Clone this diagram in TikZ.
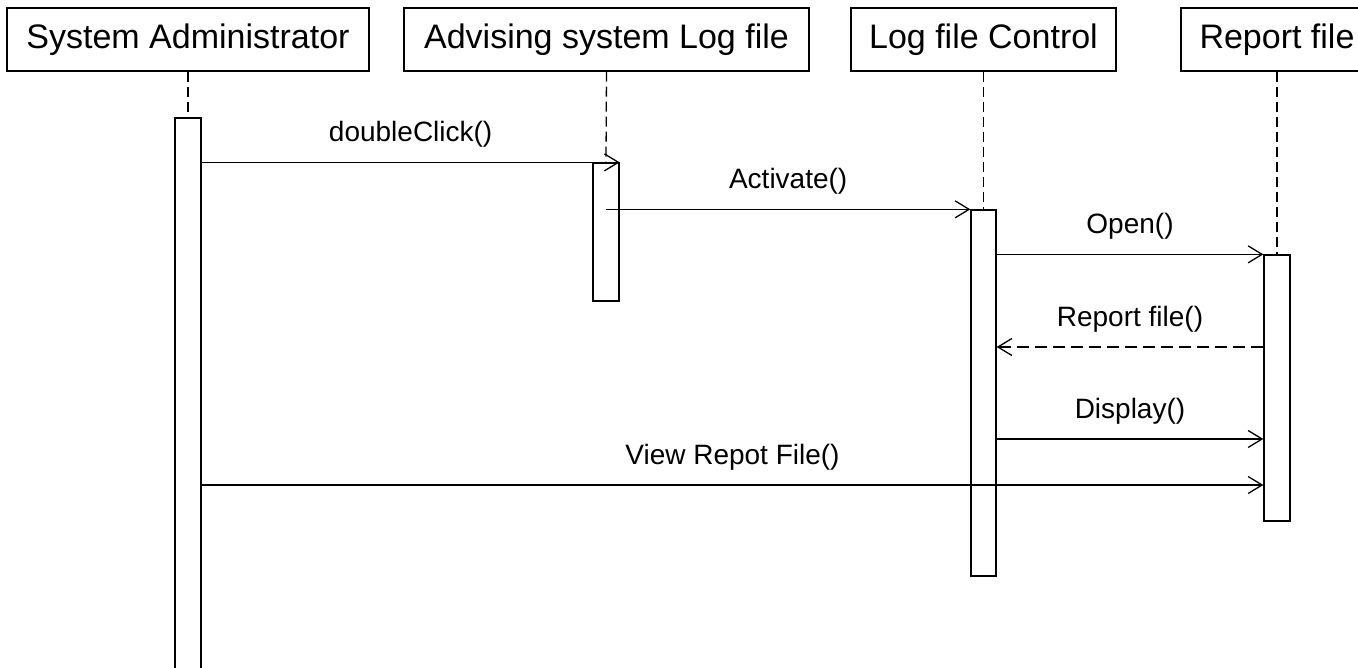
\documentclass[tikz,border=0pt]{standalone}
\usepackage{fontspec}
\setmainfont{Liberation Sans}
\usetikzlibrary{arrows.meta}
\begin{document}
\begin{tikzpicture}[x=1pt,y=-1pt,
  obj/.style={draw, line width=1.3pt, minimum height=63pt, inner sep=0pt,
    font=\fontsize{34}{40}\selectfont},
  bar/.style={draw, line width=1.3pt, fill=white, minimum width=26pt, inner sep=0pt},
  life/.style={line width=1.3pt, dash pattern=on 10pt off 5pt},
  msg/.style={line width=1.3pt, -{Straight Barb[length=14pt,width=17pt,line width=1.3pt]}},
  reply/.style={msg, dash pattern=on 12pt off 6pt},
  lbl/.style={font=\fontsize{28}{34}\selectfont, anchor=base, yshift=21pt}]
\useasboundingbox (0,0) rectangle (1358,667);
\clip (0,0) rectangle (1358,667);

% participants
\node[obj, minimum width=362pt] (sa) at (188,39.5) {System Administrator};
\node[obj, minimum width=405pt] (as) at (606.5,39.5) {Advising system Log file};
\node[obj, minimum width=265pt] (lc) at (983.5,39.5) {Log file Control};
\node[obj, minimum width=192pt] (rf) at (1277,39.5) {Report file};

% activation bars
\node[bar, minimum height=582pt] (b1) at (188,409) {};
\node[bar, minimum height=138pt] (b2) at (606,232) {};
\node[bar, minimum height=366pt, minimum width=25pt] (b3) at (983.5,393) {};
\node[bar, minimum height=266pt] (b4) at (1277,388) {};

% lifelines
\draw[life] (sa.south) -- (b1.north);
\draw[life] (as.south) -- (b2.north);
\draw[life] (lc.south) -- (b3.north);
\draw[life] (rf.south) -- (b4.north);

% message rows
\coordinate (rep) at (0,347);
\coordinate (dis) at (0,439);
\coordinate (vw) at (0,485);

% messages
\draw[msg] (b1.east |- b2.north) -- (b2.north east)
  node[midway, lbl] {doubleClick()};
\draw[msg] (b2.center |- b3.north) -- (b3.north west)
  node[midway, lbl] {Activate()};
\draw[msg] (b3.east |- b4.north) -- (b4.north west)
  node[midway, lbl] {Open()};
\draw[reply] (b4.west |- rep) -- (b3.east |- rep)
  node[midway, lbl] {Report file()};
\draw[msg] (b3.east |- dis) -- (b4.west |- dis)
  node[midway, lbl] {Display()};
\draw[msg] (b1.east |- vw) -- (b4.west |- vw)
  node[midway, lbl] {View Repot File()};
\end{tikzpicture}
\end{document}
